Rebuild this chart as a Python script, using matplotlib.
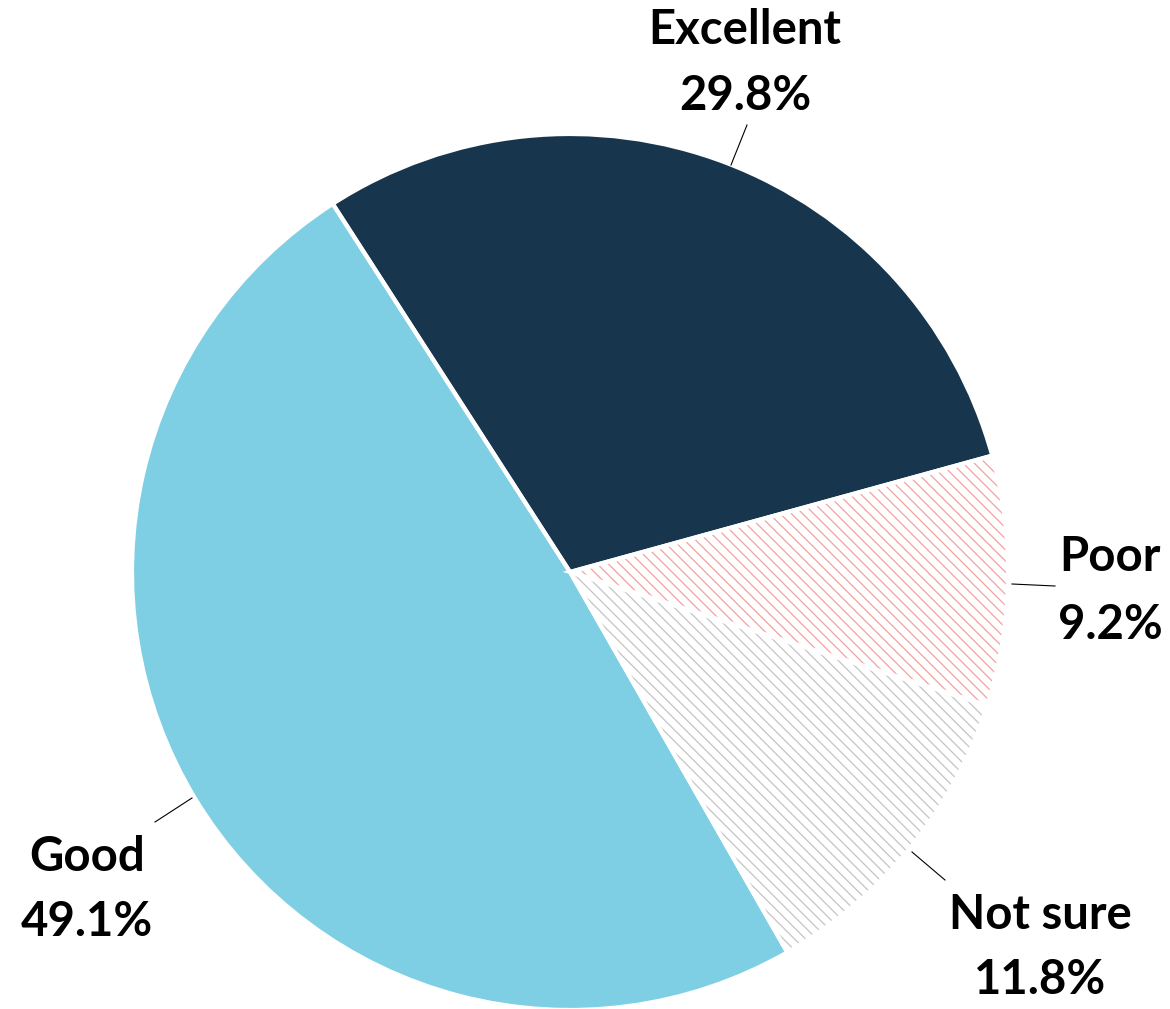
import matplotlib
matplotlib.use("Agg")
import matplotlib.pyplot as plt
from matplotlib.patches import Wedge

# Survey ratings
categories = ["Excellent", "Poor", "Not sure", "Good"]
shares = [29.8, 9.2, 11.8, 49.1]
colors = ["#17364d", "#ffffff", "#ffffff", "#7ecfe3"]
hatch_colors = [None, "#f4a0a0", "#c4c4c4", None]

W, H = 1170, 1009
fig = plt.figure(figsize=(W / 100, H / 100), dpi=100)
ax = fig.add_axes([0, 0, 1, 1])
ax.set_xlim(0, W)
ax.set_ylim(0, H)
ax.set_aspect("equal")
ax.axis("off")

cx, cy, r = 570, H - 572, 438
plt.rcParams["hatch.linewidth"] = 0.9

start = 122.8
total = sum(shares)
wedges = []
theta = start
for cat, val, col, hc in zip(categories, shares, colors, hatch_colors):
    span = 360 * val / total
    t1, t2 = theta - span, theta
    if hc is None:
        w = Wedge((cx, cy), r, t1, t2, facecolor=col, edgecolor="none", lw=0)
    else:
        w = Wedge((cx, cy), r, t1, t2, facecolor="white", edgecolor=hc,
                  lw=0, hatch="\\\\\\")
    ax.add_patch(w)
    wedges.append((t1, t2))
    theta = t1

# white separators between slices
for t1, t2 in wedges:
    ax.add_patch(Wedge((cx, cy), r, t1, t2, fill=False, edgecolor="white",
                       lw=3, joinstyle="miter"))

font = dict(family=["Lato", "DejaVu Sans"], fontweight="bold", fontsize=34,
            color="black", ha="center", va="center")

labels = {
    "Excellent": ((745, 30), (745, 96), [(747, 125), (731, 165)]),
    "Poor": ((1110, 557), (1110, 625), [(1055, 586), (1012, 584)]),
    "Not sure": ((1040, 915), (1040, 980), [(945, 880), (912, 852)]),
    "Good": ((87, 857), (87, 922), [(155, 822), (192, 798)]),
}
for cat, val in zip(categories, shares):
    (nx, ny), (px, py), line = labels[cat]
    ax.text(nx, H - ny, cat, **font)
    ax.text(px, H - py, f"{val:.1f}%", **font)
    (x1, y1), (x2, y2) = line
    ax.plot([x1, x2], [H - y1, H - y2], color="black", lw=0.8)

fig.savefig("out.png", dpi=100, facecolor="white")
